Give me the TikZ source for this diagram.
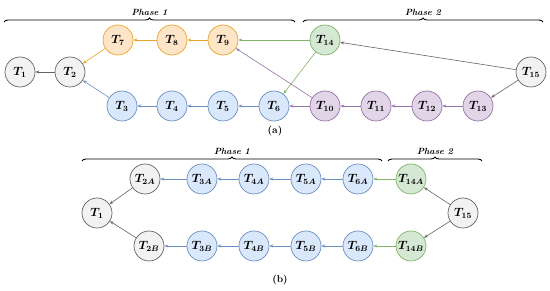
\documentclass[tikz,border=0pt]{standalone}
\usepackage{amsmath}
\usetikzlibrary{arrows.meta, positioning, decorations.pathreplacing}
\definecolor{grayfill}{RGB}{242,242,242}
\definecolor{grayline}{RGB}{100,100,100}
\definecolor{orangefill}{RGB}{253,229,200}
\definecolor{orangeline}{RGB}{232,162,40}
\definecolor{bluefill}{RGB}{218,232,252}
\definecolor{blueline}{RGB}{108,142,191}
\definecolor{purplefill}{RGB}{225,213,231}
\definecolor{purpleline}{RGB}{150,115,166}
\definecolor{greenfill}{RGB}{213,232,212}
\definecolor{greenline}{RGB}{130,179,102}

\tikzset{
  task/.style={circle, draw, line width=0.7pt, minimum size=30pt, inner sep=0pt, font=\large\boldmath},
  graytask/.style={task, draw=grayline, fill=grayfill},
  orangetask/.style={task, draw=orangeline, fill=orangefill},
  bluetask/.style={task, draw=blueline, fill=bluefill},
  purpletask/.style={task, draw=purpleline, fill=purplefill},
  greentask/.style={task, draw=greenline, fill=greenfill},
  link/.style={-{Stealth[length=4pt,width=3pt]}, line width=0.6pt},
  phasebrace/.style={decorate, decoration={brace, amplitude=4pt}, line width=0.9pt},
  phaselabel/.style={font=\small\bfseries\itshape}
}

\begin{document}
\begin{tikzpicture}[x=1pt, y=-1pt]
    \useasboundingbox (0,0) rectangle (550,291);

    % (a)
    \node[graytask] (a1) at (20,72) {$T_{1}$};
    \node[graytask] (a2) at (70,72) {$T_{2}$};
    \node[orangetask] (a7) at (118,40) {$T_{7}$};
    \node[orangetask] (a8) at (172,40) {$T_{8}$};
    \node[orangetask] (a9) at (223,40) {$T_{9}$};
    \node[greentask] (a14) at (325,40) {$T_{14}$};
    \node[bluetask] (a3) at (122,106) {$T_{3}$};
    \node[bluetask] (a4) at (172,106) {$T_{4}$};
    \node[bluetask] (a5) at (223,106) {$T_{5}$};
    \node[bluetask] (a6) at (274,106) {$T_{6}$};
    \node[purpletask] (a10) at (325,106) {$T_{10}$};
    \node[purpletask] (a11) at (376,106) {$T_{11}$};
    \node[purpletask] (a12) at (427,106) {$T_{12}$};
    \node[purpletask] (a13) at (478,106) {$T_{13}$};
    \node[graytask] (a15) at (531,72) {$T_{15}$};

    \draw[link, grayline] (a2) -- (a1);
    \draw[link, orangeline] (a7) -- (a2);
    \draw[link, orangeline] (a8) -- (a7);
    \draw[link, orangeline] (a9) -- (a8);
    \draw[link, blueline] (a3) -- (a2);
    \draw[link, blueline] (a4) -- (a3);
    \draw[link, blueline] (a5) -- (a4);
    \draw[link, blueline] (a6) -- (a5);
    \draw[link, greenline] (a14) -- (a9);
    \draw[link, greenline] (a14) -- (a6);
    \draw[link, purpleline] (a10) -- (a9);
    \draw[link, purpleline] (a10) -- (a6);
    \draw[link, purpleline] (a11) -- (a10);
    \draw[link, purpleline] (a12) -- (a11);
    \draw[link, purpleline] (a13) -- (a12);
    \draw[link, grayline] (a15) -- (a14);
    \draw[link, grayline] (a15) -- (a13);

    \coordinate (a1l) at (4,22);
    \coordinate (a1r) at (295,22);
    \coordinate (a2l) at (303,22);
    \coordinate (a2r) at (543,22);
    \draw[phasebrace] (a1l) -- (a1r) node[phaselabel, midway, above=3pt] (ph1a) {Phase 1};
    \draw[phasebrace] (a2l) -- (a2r) node[phaselabel, midway, above=3pt] (ph2a) {Phase 2};
    \node[font=\bfseries] (capa) at (275,131) {(a)};

    % (b)
    \node[graytask] (b1) at (97,213) {$T_{1}$};
    \node[graytask] (b2a) at (145,179) {$T_{2A}$};
    \node[bluetask] (b3a) at (202,179) {$T_{3A}$};
    \node[bluetask] (b4a) at (254,179) {$T_{4A}$};
    \node[bluetask] (b5a) at (306,179) {$T_{5A}$};
    \node[bluetask] (b6a) at (358,179) {$T_{6A}$};
    \node[greentask] (b14a) at (411,179) {$T_{14A}$};
    \node[graytask] (b2b) at (149,246) {$T_{2B}$};
    \node[bluetask] (b3b) at (202,246) {$T_{3B}$};
    \node[bluetask] (b4b) at (254,246) {$T_{4B}$};
    \node[bluetask] (b5b) at (306,246) {$T_{5B}$};
    \node[bluetask] (b6b) at (358,246) {$T_{6B}$};
    \node[greentask] (b14b) at (411,246) {$T_{14B}$};
    \node[graytask] (b15) at (463,213) {$T_{15}$};

    \draw[link, grayline] (b2a) -- (b1);
    \draw[link, grayline] (b2b) -- (b1);
    \draw[link, blueline] (b3a) -- (b2a);
    \draw[link, blueline] (b4a) -- (b3a);
    \draw[link, blueline] (b5a) -- (b4a);
    \draw[link, blueline] (b6a) -- (b5a);
    \draw[link, blueline] (b3b) -- (b2b);
    \draw[link, blueline] (b4b) -- (b3b);
    \draw[link, blueline] (b5b) -- (b4b);
    \draw[link, blueline] (b6b) -- (b5b);
    \draw[link, greenline] (b14a) -- (b6a);
    \draw[link, greenline] (b14b) -- (b6b);
    \draw[link, grayline] (b15) -- (b14a);
    \draw[link, grayline] (b15) -- (b14b);

    \coordinate (b1l) at (82,161);
    \coordinate (b1r) at (382,161);
    \coordinate (b2l) at (388,161);
    \coordinate (b2r) at (482,161);
    \draw[phasebrace] (b1l) -- (b1r) node[phaselabel, midway, above=3pt] (ph1b) {Phase 1};
    \draw[phasebrace] (b2l) -- (b2r) node[phaselabel, midway, above=3pt] (ph2b) {Phase 2};
    \node[font=\bfseries] (capb) at (280,280) {(b)};
\end{tikzpicture}
\end{document}
